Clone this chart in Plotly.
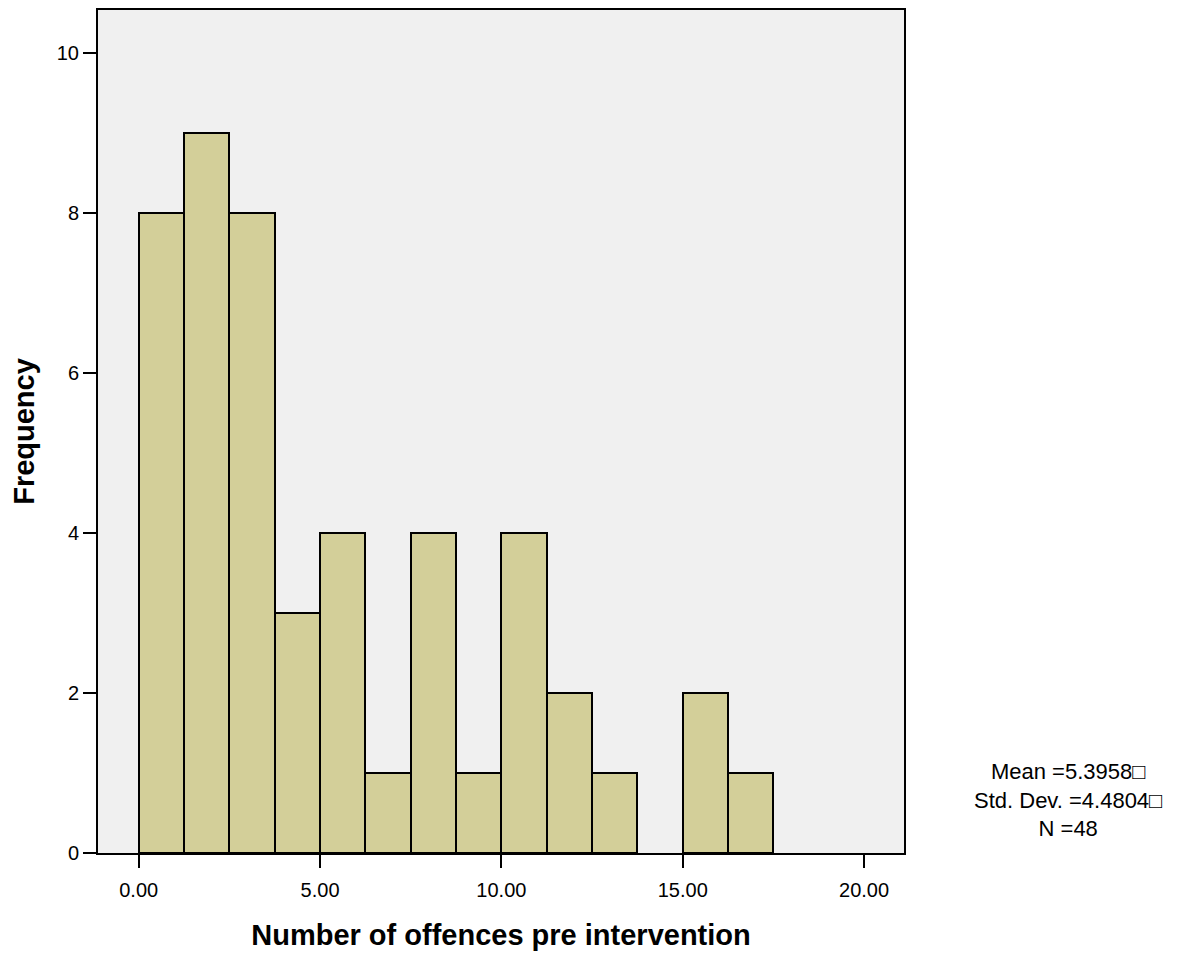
import plotly.graph_objects as go

# Histogram data (bin width 1.25)
bin_left_edges = [0.0, 1.25, 2.5, 3.75, 5.0, 6.25, 7.5, 8.75, 10.0, 11.25, 12.5, 13.75, 15.0, 16.25]
counts = [8, 9, 8, 3, 4, 1, 4, 1, 4, 2, 1, 0, 2, 1]
bin_width = 1.25
x_tick_vals = [0, 5, 10, 15, 20]
x_tick_text = ["0.00", "5.00", "10.00", "15.00", "20.00"]
y_tick_vals = [0, 2, 4, 6, 8, 10]
stats_lines = ["Mean =5.3958\u25a1", "Std. Dev. =4.4804\u25a1", "N =48"]

# only non-empty bins are drawn
centers = [e + bin_width / 2 for e, c in zip(bin_left_edges, counts) if c > 0]
heights = [c for c in counts if c > 0]

fig = go.Figure()
fig.add_trace(go.Bar(
    x=centers, y=heights, width=[bin_width] * len(heights),
    marker=dict(color="#d3cf99", line=dict(color="black", width=2)),
    showlegend=False,
))

FONT = "Liberation Sans, Arial, sans-serif"
# page body has an 8px margin: compensate
OFF = 8
W, H = 1191 - OFF, 955 - OFF
L, T = 98 - OFF, 8 - OFF
PW, PH = 806, 845
fig.update_layout(
    width=W, height=H,
    margin=dict(l=L, r=W - L - PW, t=T, b=H - T - PH, pad=0),
    paper_bgcolor="white", plot_bgcolor="#f0f0f0",
    font=dict(family=FONT, size=20, color="black"),
    bargap=0,
)
fig.update_xaxes(
    range=[-1.122, 21.1], tickvals=x_tick_vals, ticktext=x_tick_text,
    showgrid=False, zeroline=False,
    showline=True, linecolor="black", linewidth=2, mirror=True,
    ticks="outside", ticklen=13, tickwidth=2, tickcolor="black",
    tickfont=dict(size=20), ticklabelstandoff=5,
    title=dict(text="<b>Number of offences pre intervention</b>", font=dict(size=29), standoff=25),
)
fig.update_yaxes(
    range=[0, 10.536], tickvals=y_tick_vals,
    showgrid=False, zeroline=False,
    showline=True, linecolor="black", linewidth=2, mirror=True,
    ticks="outside", ticklen=13, tickwidth=2, tickcolor="black",
    tickfont=dict(size=20),
    title=dict(text="<b>Frequency</b>", font=dict(size=29), standoff=19),
)
# x-axis baseline extends a little left of the frame
fig.add_shape(type="line", xref="paper", yref="paper", x0=-14 / PW, x1=0, y0=0, y1=0,
              line=dict(color="black", width=2))

fig.add_annotation(text="<br>".join(stats_lines), xref="paper", yref="paper",
                   x=(1068 - 98) / PW, y=(853 - 800) / PH,
                   xanchor="center", yanchor="middle", align="center", showarrow=False,
                   font=dict(size=22, family=FONT))

fig.write_html("out.html")
